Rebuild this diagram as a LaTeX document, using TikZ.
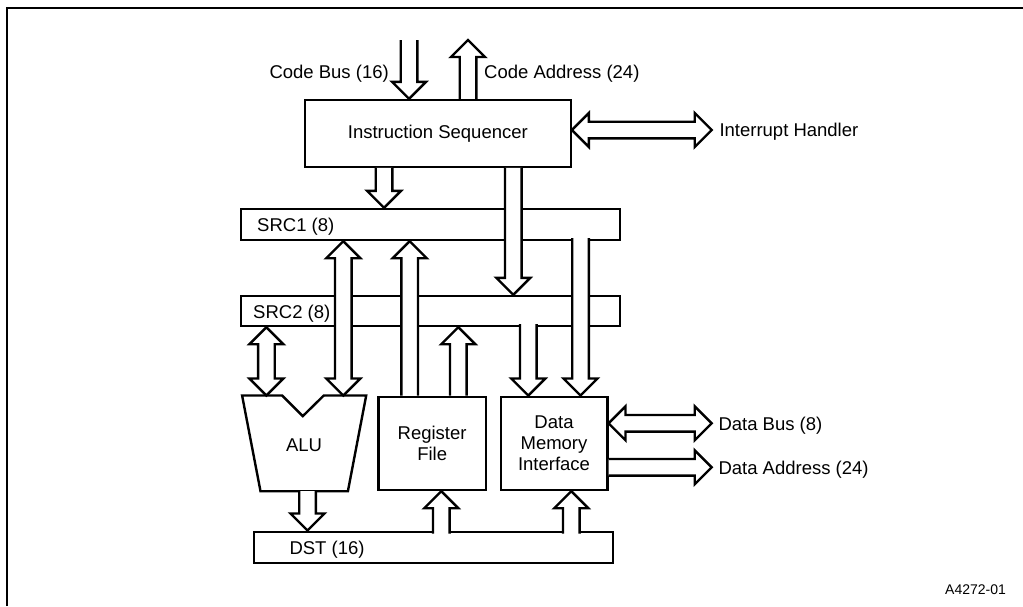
\documentclass[tikz,border=0pt]{standalone}
\usepackage{fontspec}
\setmainfont{Liberation Sans}
\usetikzlibrary{calc}
\tikzset{
  lw/.style={line width=2.4pt},
  box/.style={draw, lw, inner sep=0pt, fill=white},
  lbl/.style={inner sep=0pt, font=\fontsize{18.5}{21.3}\selectfont},
  arr/.style={lw, line join=miter, line cap=butt},
}
% single hollow block arrow: #1 tail, #2 tip, #3 extension of the white fill behind the tail
\newcommand\blkarrow[3]{%
  \coordinate (bat) at (#1);
  \coordinate (bap) at (#2);
  \coordinate (bae) at ($(bat)!-#3!(bap)$);
  \coordinate (bah) at ($(bap)!17pt!(bat)$);
  \fill[white] ($(bae)!8.3pt!90:(bap)$) -- ($(bah)!8.3pt!90:(bap)$) -- ($(bah)!17pt!90:(bap)$) -- (bap)
     -- ($(bah)!17pt!-90:(bap)$) -- ($(bah)!8.3pt!-90:(bap)$) -- ($(bae)!8.3pt!-90:(bap)$) -- cycle;
  \draw[arr] ($(bae)!8.3pt!90:(bap)$) -- ($(bah)!8.3pt!90:(bap)$) -- ($(bah)!17pt!90:(bap)$) -- (bap)
     -- ($(bah)!17pt!-90:(bap)$) -- ($(bah)!8.3pt!-90:(bap)$) -- ($(bae)!8.3pt!-90:(bap)$);
}
% double-headed hollow block arrow between #1 and #2
\newcommand\dblarrow[2]{%
  \coordinate (daa) at (#1);
  \coordinate (dab) at (#2);
  \coordinate (dha) at ($(daa)!17pt!(dab)$);
  \coordinate (dhb) at ($(dab)!17pt!(daa)$);
  \filldraw[arr, fill=white] (daa) -- ($(dha)!17pt!90:(dab)$) -- ($(dha)!8.3pt!90:(dab)$)
     -- ($(dhb)!8.3pt!-90:(daa)$) -- ($(dhb)!17pt!-90:(daa)$) -- (dab)
     -- ($(dhb)!17pt!90:(daa)$) -- ($(dhb)!8.3pt!90:(daa)$)
     -- ($(dha)!8.3pt!-90:(dab)$) -- ($(dha)!17pt!-90:(dab)$) -- cycle;
}
\begin{document}
\begin{tikzpicture}[x=1pt,y=-1pt]
\useasboundingbox (0,0) rectangle (1023,606);
\draw[line width=1.8pt] (7,606) -- (7,8) -- (1023,8);

% blocks
\node[box, lbl, minimum width=265.7pt, minimum height=66.7pt] (IS) at (437.85,133.35) {Instruction Sequencer};
\node[box, minimum width=379.3pt, minimum height=31pt] (SRC1) at (430.35,224.5) {};
\node[box, minimum width=379.3pt, minimum height=30pt] (SRC2) at (430.35,311) {};
\node[box, minimum width=358.7pt, minimum height=31pt] (DST) at (433.35,547.2) {};
\node[box, lbl, align=center, minimum width=107.7pt, minimum height=93.3pt] (RF) at (432.15,443.35) {Register\\File};
\node[box, lbl, align=center, minimum width=106.6pt, minimum height=93.3pt] (DMI) at (554,443.35) {Data\\Memory\\Interface};
\node[inner sep=0pt, outer sep=1.2pt, minimum width=121.7pt, minimum height=93.3pt] (ALU) at (304.15,443.35) {};
\draw[arr] (ALU.north west) -- ++(40,0) -- ++(20.7,20.6) -- ++(21,-20.6) -- (ALU.north east)
   -- ([xshift=-18.3pt]ALU.south east) -- ([xshift=18.4pt]ALU.south west) -- cycle;
\node[lbl] (alul) at (304,445) {ALU};

% bar labels
\node[lbl, anchor=base west] (src1l) at (257,231) {SRC1 (8)};
\node[lbl, anchor=base west] (src2l) at (253,318) {SRC2 (8)};
\node[lbl, anchor=base west] (dstl) at (289.3,554.3) {DST (16)};

% column / free-end coordinates
\coordinate (cbend) at (409,40);
\coordinate (caend) at (468,40);
\coordinate (ihend) at (711.7,130);
\coordinate (c384) at (384,0);
\coordinate (c513) at (513.3,0);
\coordinate (c343) at (343.3,0);
\coordinate (c410) at (409.7,0);
\coordinate (c458) at (458.3,0);
\coordinate (c266) at (266.4,0);
\coordinate (c528) at (528.3,0);
\coordinate (c580) at (580.5,0);
\coordinate (c307) at (307.5,0);
\coordinate (c441) at (441.3,0);
\coordinate (c571) at (571.3,0);
\coordinate (dbend) at (711.7,423.3);
\coordinate (daend) at (711.7,467.3);

% connectors
\blkarrow{cbend}{IS.north -| cbend}{0pt}
\blkarrow{IS.north -| caend}{caend}{0pt}
\dblarrow{IS.east |- ihend}{ihend}
\blkarrow{IS.south -| c384}{SRC1.north -| c384}{0pt}
\blkarrow{IS.south -| c513}{SRC2.north -| c513}{0pt}
\dblarrow{SRC1.south -| c343}{ALU.north -| c343}
\blkarrow{RF.north -| c410}{SRC1.south -| c410}{0pt}
\blkarrow{RF.north -| c458}{SRC2.south -| c458}{0pt}
\dblarrow{SRC2.south -| c266}{ALU.north -| c266}
\blkarrow{SRC2.south -| c528}{DMI.north -| c528}{3pt}
\blkarrow{SRC1.south -| c580}{DMI.north -| c580}{3pt}
\blkarrow{ALU.south -| c307}{DST.north -| c307}{0pt}
\blkarrow{DST.north -| c441}{RF.south -| c441}{3pt}
\blkarrow{DST.north -| c571}{DMI.south -| c571}{3pt}
\dblarrow{DMI.east |- dbend}{dbend}
\blkarrow{DMI.east |- daend}{daend}{0pt}

% external labels
\node[lbl, anchor=base east] (cbl) at (389,78.5) {Code Bus (16)};
\node[lbl, anchor=base west] (cal) at (484,78.5) {Code Address (24)};
\node[lbl, anchor=base west] (ihl) at (719.3,136.5) {Interrupt Handler};
\node[lbl, anchor=base west] (dbl) at (718.3,430) {Data Bus (8)};
\node[lbl, anchor=base west] (dal) at (718.3,474) {Data Address (24)};
\node[inner sep=0pt, font=\fontsize{14}{16}\selectfont, anchor=base west] (fig) at (945,594) {A4272-01};
\end{tikzpicture}
\end{document}
